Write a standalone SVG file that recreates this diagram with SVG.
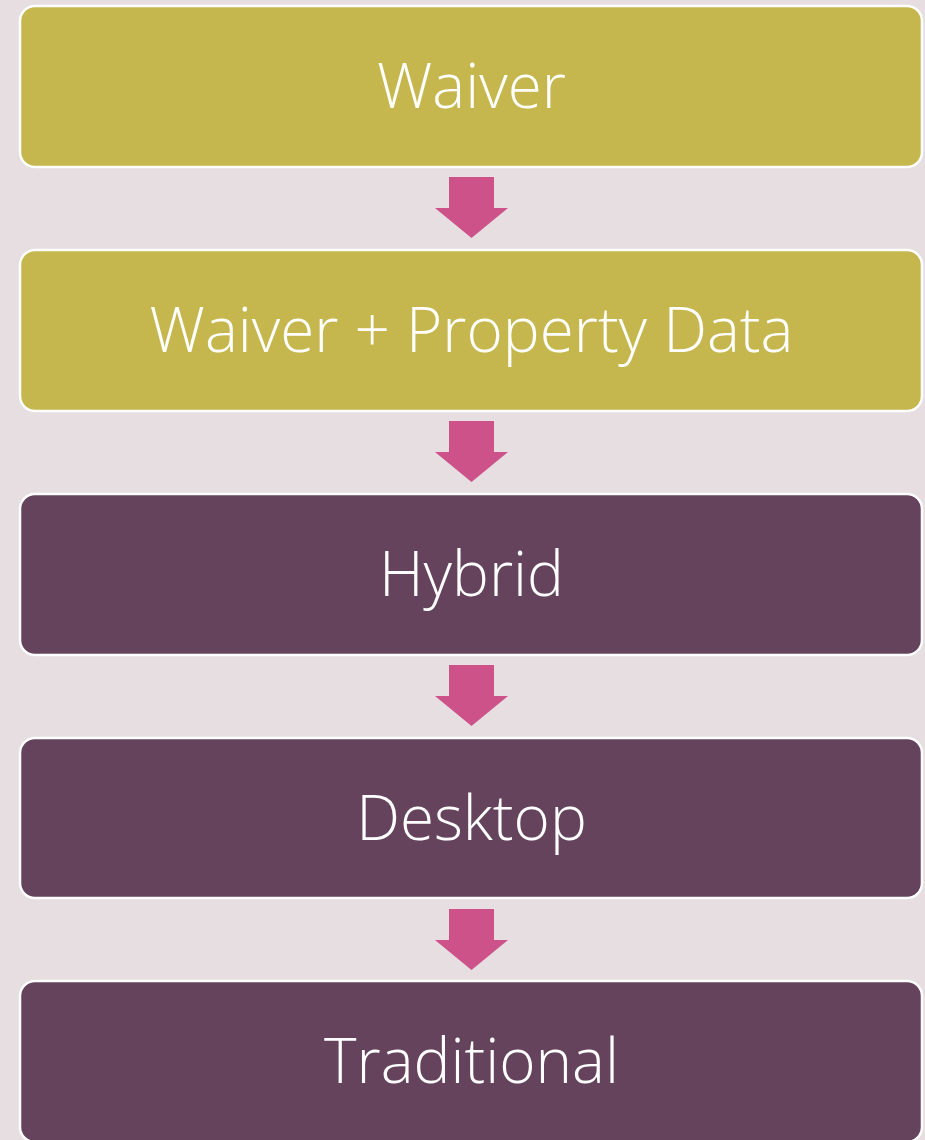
<svg xmlns="http://www.w3.org/2000/svg" width="925" height="1140" viewBox="0 0 925 1140">
<style>
.bg{fill:#E6DEE1}
.box{stroke:#FFFFFF;stroke-width:2.5}
.y{fill:#C5B74D}
.p{fill:#65435D}
.lbl{font-family:"Open Sans","Liberation Sans",sans-serif;font-weight:300;font-size:62px;fill:#FFFFFF;text-anchor:middle}
.arr{fill:#CC5289}
</style>
<defs>
<path id="arrow" d="M-22.5,0 H22.5 V31 H36.5 L0,61 L-36.5,31 H-22.5 Z"/>
</defs>
<rect class="bg" x="0" y="0" width="925" height="1140"/>
<g id="connectors">
<use href="#arrow" class="arr" x="471.5" y="177"/>
<use href="#arrow" class="arr" x="471.5" y="421"/>
<use href="#arrow" class="arr" x="471.5" y="665"/>
<use href="#arrow" class="arr" x="471.5" y="909"/>
</g>
<g id="n1"><rect class="box y" x="20" y="6" width="902" height="161" rx="15"/><text class="lbl" x="471.5" y="108">Waiver</text></g>
<g id="n2"><rect class="box y" x="20" y="250" width="902" height="161" rx="15"/><text class="lbl" x="471.5" y="352">Waiver + Property Data</text></g>
<g id="n3"><rect class="box p" x="20" y="494" width="902" height="161" rx="15"/><text class="lbl" x="471.5" y="596">Hybrid</text></g>
<g id="n4"><rect class="box p" x="20" y="738" width="902" height="160" rx="15"/><text class="lbl" x="471.5" y="840">Desktop</text></g>
<g id="n5"><rect class="box p" x="20" y="981" width="902" height="161" rx="15"/><text class="lbl" x="471.5" y="1083">Traditional</text></g>
</svg>
